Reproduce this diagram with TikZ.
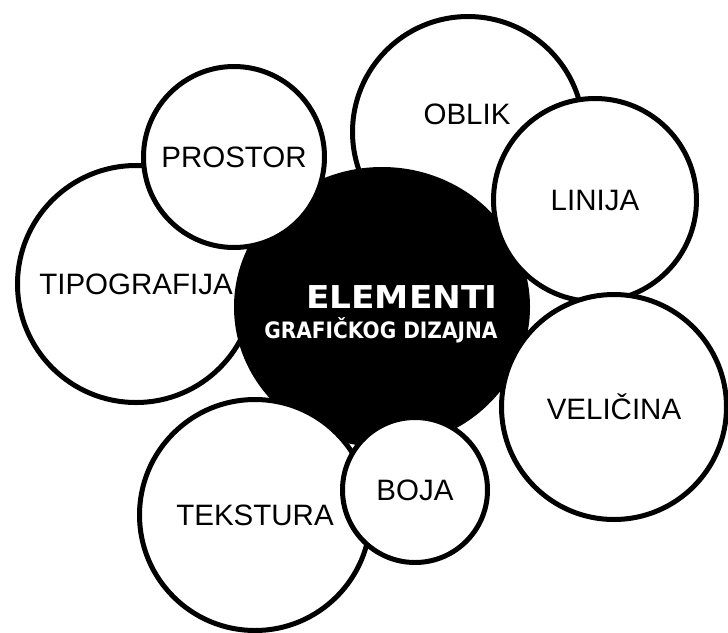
\documentclass[tikz,border=0pt]{standalone}
\usepackage{fontspec}
\setmainfont{Liberation Sans}
\newfontfamily\titlefont{DejaVu Sans}[BoldFont={DejaVu Sans Bold},FakeStretch=1.09]
\newfontfamily\subtitlefont{DejaVu Sans}[BoldFont={DejaVu Sans Bold},FakeStretch=0.89]
\usepackage{tikz}
\usetikzlibrary{shapes.geometric}

\begin{document}
\begin{tikzpicture}[x=1pt, y=-1pt, every node/.style={font=\fontsize{29.5}{30}\selectfont},
	bubble/.style={draw=black, fill=white, circle, line width=5pt, inner sep=0pt},
	core/.style={draw=black, fill=black, ellipse, line width=5pt, inner sep=0pt}]
	\useasboundingbox (0,0) rectangle (728,632);
	\node[bubble, minimum size=231pt] (oblik) at (468,132) {};
	\node (oblik text) at (467,114) {OBLIK};
	\node[bubble, minimum size=237pt] (tipografija) at (136,284) {TIPOGRAFIJA};
	\node[core, minimum width=291pt, minimum height=275pt] (elementi) at (382,307) {};
	\node[text=white, anchor=base east, font=\titlefont\bfseries\fontsize{31.5}{32}\selectfont] (title) at (501,308) {ELEMENTI};
	\node[text=white, anchor=base east, font=\subtitlefont\bfseries\fontsize{22.6}{23}\selectfont] (subtitle) at (501,338) {GRAFIČKOG DIZAJNA};
	\node[bubble, minimum size=203pt] (linija) at (595,200) {LINIJA};
	\node[bubble, minimum size=225pt] (velicina) at (614,407) {VELIČINA};
	\node[bubble, minimum size=181pt] (prostor) at (234,157) {PROSTOR};
	\node[bubble, minimum size=231pt] (tekstura) at (255,515) {TEKSTURA};
	\node[bubble, minimum size=145pt] (boja) at (415,490) {BOJA};
\end{tikzpicture}
\end{document}
